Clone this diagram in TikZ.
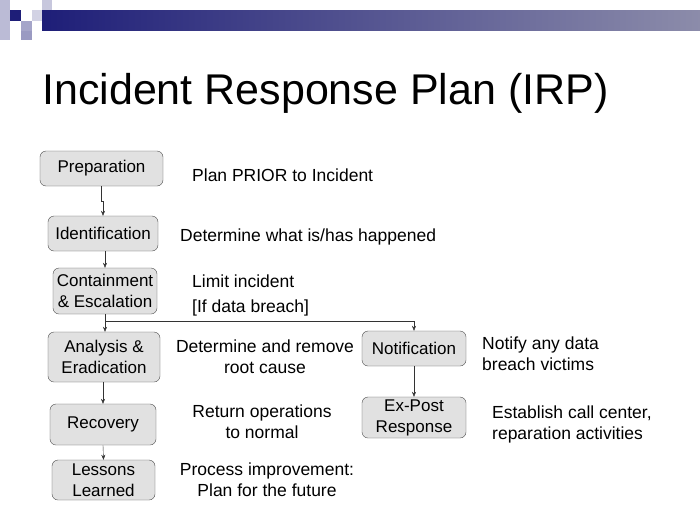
\documentclass[tikz,border=0pt]{standalone}
\usepackage{fontspec}
\setmainfont{Liberation Sans}
\usetikzlibrary{arrows.meta}
\definecolor{navy}{RGB}{30,30,120}
\definecolor{barend}{RGB}{140,140,170}
\definecolor{boxfill}{RGB}{225,225,225}
\begin{document}
\begin{tikzpicture}[x=1pt,y=-1pt,
  stepbox/.style={draw=black!70,fill=boxfill,rounded corners=6pt,font=\fontsize{17}{21}\selectfont,align=center,inner sep=0pt},
  note/.style={font=\fontsize{17.5}{21}\selectfont,align=center,inner sep=0pt},
  conn/.style={draw=black!80,-{Stealth[length=5pt,width=4pt]}}]
\useasboundingbox (0,0) rectangle (700,525);
\fill[white] (0,0) rectangle (700,525);
% decoration
\fill[navy!30] (0,0) rectangle (10,40);
\fill[navy!25] (42,0) rectangle (52,10);
\fill[navy] (10,10) rectangle (21,21);
\fill[navy!20] (32,10) rectangle (42,21);
\fill[navy!40] (21,21) rectangle (32,31);
\fill[navy!45] (21,31) rectangle (32,40);
\shade[left color=navy,right color=barend] (42,10) rectangle (700,30);
\node[anchor=west,inner sep=0pt,font=\fontsize{43}{45}\selectfont] (title) at (42,93) {Incident Response Plan (IRP)};
% boxes
\node[stepbox,minimum width=123pt,minimum height=35pt] (prep) at (101.5,168.5) {Preparation};
\node[stepbox,minimum width=110pt,minimum height=35pt] (ident) at (103,233.5) {Identification};
\node[stepbox,minimum width=104pt,minimum height=46pt] (cont) at (105,291) {Containment\\\& Escalation};
\node[stepbox,minimum width=112pt,minimum height=50pt] (anal) at (104,357) {Analysis \&\\Eradication};
\node[stepbox,minimum width=106pt,minimum height=41pt] (rec) at (103,424.5) {Recovery};
\node[stepbox,minimum width=103pt,minimum height=40pt] (less) at (103.5,480) {Lessons\\Learned};
\node[stepbox,minimum width=104pt,minimum height=35pt] (notif) at (414,348.5) {Notification};
\node[stepbox,minimum width=104pt,minimum height=41pt] (expost) at (414,417.5) {Ex-Post\\Response};
% notes
\node[note,anchor=west] (n1) at (192,175) {Plan PRIOR to Incident};
\node[note,anchor=west] (n2) at (180,237) {Determine what is/has happened};
\node[note,anchor=west] (n3) at (192,281) {Limit incident};
\node[note,anchor=west] (n4) at (192,308) {[If data breach]};
\node[note] (n5) at (265,357) {Determine and remove\\root cause};
\node[note] (n6) at (262,422) {Return operations\\to normal};
\node[note] (n7) at (267,480) {Process improvement:\\Plan for the future};
\node[note,align=left,anchor=west] (n8) at (482,354) {Notify any data\\breach victims};
\node[note,align=left,anchor=west] (n9) at (492,424) {Establish call center,\\reparation activities};
% connectors
\draw[conn] (prep.south) -- ++(0,15) -| (ident.north);
\draw[conn] (ident.south -| cont.north) -- (cont.north);
\draw[conn] (cont.south) -- (cont.south |- anal.north);
\coordinate (br) at (105,321);
\draw[conn] (br) -| (notif.north);
\draw[conn] (anal.south -| rec.north) -- (rec.north);
\draw[conn] (rec.south) -- (less.north);
\draw[conn] (notif.south) -- (expost.north);
\end{tikzpicture}
\end{document}
